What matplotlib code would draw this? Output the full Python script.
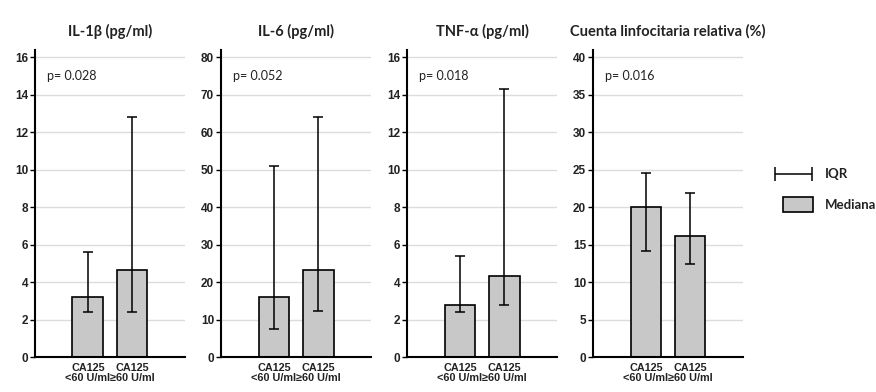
import numpy as np
import matplotlib
matplotlib.use('Agg')
import matplotlib.pyplot as plt
from matplotlib.patches import Rectangle

# data
titles = ['IL-1β (pg/ml)', 'IL-6 (pg/ml)', 'TNF-α (pg/ml)', 'Cuenta linfocitaria relativa (%)']
groups = ['CA125\n<60 U/ml', 'CA125\n≥60 U/ml']
p_values = ['p= 0.028', 'p= 0.052', 'p= 0.018', 'p= 0.016']
y_max = [16, 80, 16, 40]
y_step = [2, 10, 2, 5]

il1b_median = [3.2, 4.65]
il1b_q1 = [2.4, 2.4]
il1b_q3 = [5.6, 12.8]

il6_median = [15.9, 23.3]
il6_q1 = [7.6, 12.3]
il6_q3 = [51.0, 64.0]

tnf_median = [2.8, 4.3]
tnf_q1 = [2.4, 2.75]
tnf_q3 = [5.4, 14.3]

linf_median = [20.0, 16.2]
linf_q1 = [14.2, 12.4]
linf_q3 = [24.5, 21.9]

medians = [il1b_median, il6_median, tnf_median, linf_median]
q1s = [il1b_q1, il6_q1, tnf_q1, linf_q1]
q3s = [il1b_q3, il6_q3, tnf_q3, linf_q3]

W, H = 876, 392
BAR_COLOR = '#c8c8c8'
GRID_COLOR = '#dcdcdc'
TEXT_COLOR = '#222222'
TITLE_FONT = 'Lato'
TICK_FONT = 'Liberation Sans'

fig = plt.figure(figsize=(W / 100, H / 100), dpi=100)
fig.patch.set_facecolor('white')

lefts = [35, 221, 407, 593]
ax_w = 150
bottom_px = 357
top_tick_px = 57.3

for n in range(4):
    ymax = y_max[n]
    ytop = ymax * 1.025
    height_px = (bottom_px - top_tick_px) * 1.025
    ax = fig.add_axes([lefts[n] / W, (H - bottom_px) / H, ax_w / W, height_px / H])
    x = np.arange(len(groups))
    med = np.array(medians[n])
    lo = med - np.array(q1s[n])
    hi = np.array(q3s[n]) - med

    ticks = np.arange(0, ymax + y_step[n] / 2, y_step[n])
    for t in ticks[1:]:
        ax.axhline(t, color=GRID_COLOR, lw=1.0, zorder=0)

    ax.bar(x, med, width=0.70, color=BAR_COLOR, edgecolor='black', linewidth=1.2, zorder=2)
    ax.errorbar(x, med, yerr=[lo, hi], fmt='none', ecolor='black', elinewidth=1.1,
                capsize=3.5, capthick=1.1, zorder=3)

    ax.set_xlim(-1.2, 2.2)
    ax.set_ylim(0, ytop)
    ax.set_yticks(ticks)
    ax.set_yticklabels([f'{t:g}' for t in ticks], fontsize=8.5, fontweight='bold',
                       family=TICK_FONT, color=TEXT_COLOR)
    ax.set_xticks(x)
    ax.set_xticklabels(groups, fontsize=7.8, fontweight='bold', family=TICK_FONT,
                       color=TEXT_COLOR, linespacing=1.05)
    ax.tick_params(axis='x', length=0, pad=4)
    ax.tick_params(axis='y', length=3.5, width=1.0, pad=1.5)
    ax.spines['right'].set_visible(False)
    ax.spines['top'].set_visible(False)
    ax.spines['left'].set_linewidth(1.5)
    ax.spines['bottom'].set_linewidth(1.5)

    ax.text(0.08, 0.915, p_values[n], transform=ax.transAxes, fontsize=9,
            family=TITLE_FONT, color=TEXT_COLOR, va='center', ha='left')
    ax.set_title(titles[n], fontsize=10.5, fontweight='bold', family=TITLE_FONT,
                 color=TEXT_COLOR, pad=10)

# legend
lax = fig.add_axes([0, 0, 1, 1], facecolor='none')
lax.set_xlim(0, W)
lax.set_ylim(H, 0)
lax.axis('off')
lax.errorbar([793.5], [174], xerr=[[18.5], [18.5]], fmt='none', ecolor='black',
             elinewidth=1.1, capsize=5, capthick=1.1)
lax.add_patch(Rectangle((783, 197), 30, 15, facecolor=BAR_COLOR, edgecolor='black', lw=1.2))
lax.text(825, 174, 'IQR', fontsize=9.5, fontweight='bold', family=TITLE_FONT,
         va='center', ha='left', color=TEXT_COLOR)
lax.text(825, 205, 'Mediana', fontsize=9.5, fontweight='bold', family=TITLE_FONT,
         va='center', ha='left', color=TEXT_COLOR)

fig.savefig('out.png', dpi=100)
